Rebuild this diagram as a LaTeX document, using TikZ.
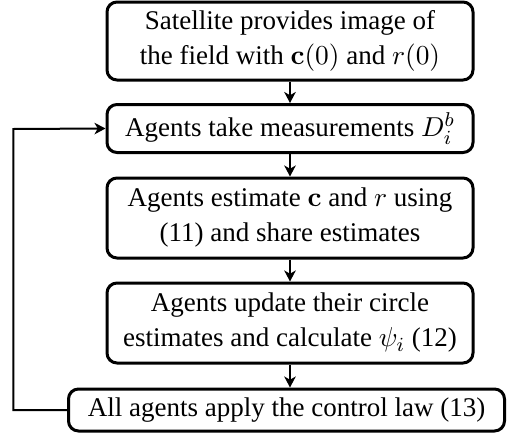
\documentclass[tikz,border=0pt]{standalone}
\usepackage[no-math]{fontspec}
\setmainfont{Liberation Serif}
\usetikzlibrary{arrows.meta}
\begin{document}
\begin{tikzpicture}[x=0.4pt,y=-0.4pt,
  stepbox/.style={draw, line width=1.2pt, rounded corners=4pt, align=center, inner sep=0pt, font=\fontsize{10.8}{14}\selectfont},
  conn/.style={line width=0.8pt, -{Stealth[length=4.4pt,width=4.6pt,inset=1.3pt]}}]
\useasboundingbox (0,0) rectangle (508,434);
\node[stepbox, minimum width=366*0.4pt, minimum height=78*0.4pt] (s1) at (290,41) {Satellite provides image of\\the field with $\mathbf{c}(0)$ and $r(0)$};
\node[stepbox, minimum width=366*0.4pt, minimum height=48*0.4pt] (s2) at (290,128.5) {Agents take measurements $D_i^b$};
\node[stepbox, minimum width=366*0.4pt, minimum height=80*0.4pt] (s3) at (290,218) {Agents estimate $\mathbf{c}$ and $r$ using\\(11) and share estimates};
\node[stepbox, minimum width=366*0.4pt, minimum height=80*0.4pt] (s4) at (290,323) {Agents update their circle\\estimates and calculate $\psi_i$ (12)};
\node[stepbox, minimum width=436*0.4pt, minimum height=42*0.4pt] (s5) at (286.5,410) {All agents apply the control law (13)};
\coordinate (lb) at (13.5,410);
\coordinate (lt) at (13.5,129);
\draw[conn] (s1) -- (s2);
\draw[conn] (s2) -- (s3);
\draw[conn] (s3) -- (s4);
\draw[conn] (s4) -- (s4 |- s5.north);
\draw[conn] (s5.west) -- (lb) -- (lt) -- (s2.west);
\end{tikzpicture}
\end{document}
